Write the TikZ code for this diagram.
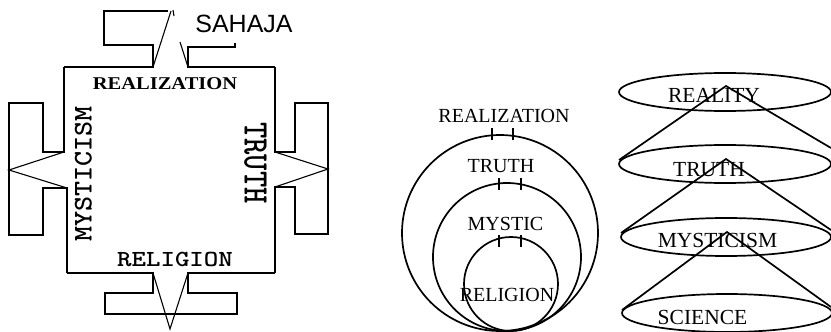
\documentclass[tikz,border=0pt]{standalone}
\usepackage{fontspec}
\usepackage{graphicx}
\setmainfont{Liberation Serif}
\newfontfamily\sansf{Liberation Sans}
\tikzset{
  sym/.style={line width=1.1pt, line join=miter},
  ring/.style={line width=1.7pt},
  lbl/.style={inner sep=0pt, anchor=center},
  monolbl/.style={lbl, font=\ttfamily\bfseries},
  serlbl/.style={lbl, font=\fontsize{20}{24}\selectfont},
  conelbl/.style={lbl, font=\fontsize{21.5}{26}\selectfont},
}
\begin{document}
\begin{tikzpicture}[x=1pt,y=-1pt]
\useasboundingbox (0,0) rectangle (831,332);
\clip (0,0) rectangle (831,332);

% ---------- left figure: Sahaja symbol ----------
% top arm
\draw[sym] (64,67) -- (153,67) -- (153,45) -- (104,45) -- (104,11) -- (168,11);
\draw[sym] (153,67) -- (171,11);
\draw[sym] (173,10) -- (174,16);
\draw[sym] (180,42) -- (188,67);
\draw[sym] (275,67) -- (188,67) -- (188,47) -- (235,47) -- (235,43);
% right arm
\draw[sym] (275,67) -- (275,152) -- (295,152) -- (295,103) -- (328,103) -- (328,234)
  -- (295,234) -- (295,187) -- (275,187) -- (275,273);
\draw[sym] (275,152) -- (328,169) -- (275,187);
% bottom arm
\draw[sym] (275,273) -- (188,273) -- (188,293) -- (237,293) -- (237,314) -- (105,314)
  -- (105,293) -- (153,293) -- (153,273) -- (67,273);
\draw[sym] (153,273) -- (170,329) -- (188,273);
% left arm
\draw[sym] (67,273) -- (67,188) -- (43,188) -- (43,235) -- (9,235) -- (9,103) -- (43,103)
  -- (43,152) -- (64,152) -- (64,67);
\draw[sym] (64,152) -- (9,170) -- (67,188);

\node[lbl, font=\sansf\fontsize{25}{30}\selectfont] (sahaja) at (244,23.5) {SAHAJA};
\node[lbl, font=\bfseries\fontsize{18}{22}\selectfont] (srealization) at (165,84)
  {\scalebox{1.14}[1]{REALIZATION}};
\node[monolbl, rotate=90] (smysticism) at (83.5,174)
  {\fontsize{27}{30}\selectfont\scalebox{1.06}[1]{MYSTICISM}};
\node[monolbl, rotate=-90] (struth) at (255.5,163)
  {\fontsize{36}{40}\selectfont\scalebox{0.86}[1]{TRUTH}};
\node[monolbl] (sreligion) at (175,259)
  {\fontsize{23}{26}\selectfont\scalebox{1.2}[1]{RELIGION}};

% ---------- middle figure: nested circles ----------
\draw[ring] (500,233) circle[radius=98pt];
\draw[ring] (507,257) circle[radius=74pt];
\draw[ring] (511,284) circle[radius=47pt];
\draw[ring] (492,128) -- (492,140);
\draw[ring] (513,128) -- (513,140);
\draw[ring] (499,178) -- (499,190);
\draw[ring] (521,178) -- (521,190);
\draw[ring] (499,235) -- (499,247);
\draw[ring] (521,235) -- (521,247);

\node[serlbl] (crealization) at (504,115.5) {REALIZATION};
\node[serlbl] (ctruth) at (501,166.5) {TRUTH};
\node[serlbl] (cmystic) at (505.5,223.5) {MYSTIC};
\node[serlbl] (creligion) at (507,295) {RELIGION};

% ---------- right figure: stacked cones ----------
\draw[ring] (725,92) ellipse[x radius=106pt, y radius=19pt];
\draw[ring] (725,164) ellipse[x radius=106pt, y radius=19pt];
\draw[ring] (726,237) ellipse[x radius=105pt, y radius=19pt];
\draw[ring] (727,313) ellipse[x radius=105pt, y radius=19pt];
\draw[ring] (619,160) -- (726,86) -- (831,148);
\draw[ring] (621,233) -- (726,159) -- (831,230);
\draw[ring] (622,310) -- (727,232) -- (831,307);

\node[conelbl] (reality) at (714,95.5) {REALITY};
\node[conelbl] (rtruth) at (709,169.5) {TRUTH};
\node[conelbl] (rmysticism) at (717.5,240.5) {MYSTICISM};
\node[conelbl] (rscience) at (702.5,317.5) {SCIENCE};
\end{tikzpicture}
\end{document}
